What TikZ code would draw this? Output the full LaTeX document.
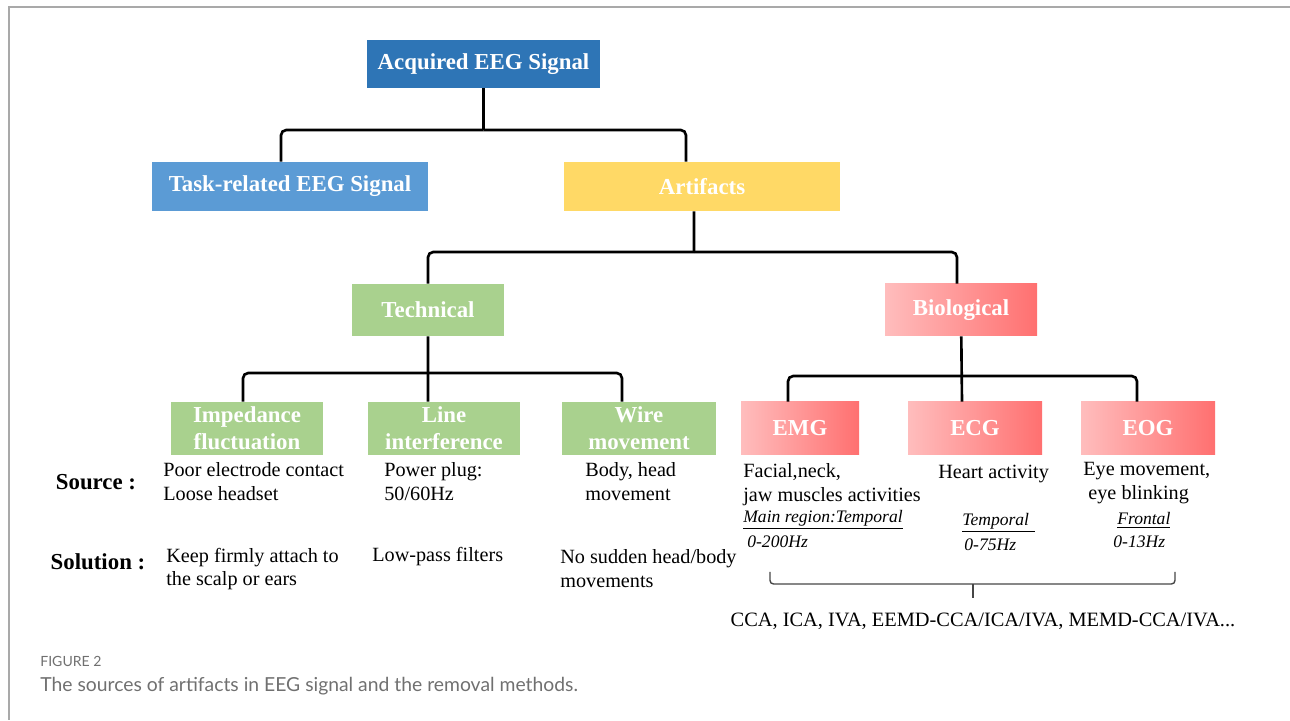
\documentclass[tikz,border=0pt]{standalone}
\usepackage{fontspec}
\setmainfont{Liberation Serif}
\newfontfamily\capfont{Lato}
\definecolor{acqblue}{RGB}{46,117,182}
\definecolor{taskblue}{RGB}{91,155,213}
\definecolor{artyellow}{RGB}{255,217,102}
\definecolor{techgreen}{RGB}{169,209,142}
\definecolor{biolight}{RGB}{255,189,189}
\definecolor{biodark}{RGB}{255,112,112}
\definecolor{capgray}{RGB}{112,112,112}
\definecolor{bracegray}{RGB}{70,70,70}

\begin{document}
\begin{tikzpicture}
      \useasboundingbox (0,0) rectangle (25.8,14.4);
      \draw [capgray!60, line width=0.7pt] (25.8,14.26) -- (0.18,14.26) -- (0.18,0);

      \begin{scope}[every node/.style={rectangle, inner sep=0pt, text=white, align=center, font=\fontsize{13}{15.5}\selectfont\bfseries}]
        \node [fill=acqblue, minimum width=4.66cm, minimum height=0.96cm] (acq) at (9.67,13.12) {Acquired EEG Signal};
        \node [fill=taskblue, minimum width=5.52cm, minimum height=0.98cm] (task) at (5.80,10.67) {Task-related EEG Signal};
        \node [fill=artyellow, minimum width=5.52cm, minimum height=0.98cm] (art) at (14.04,10.67) {Artifacts};

        \node [fill=techgreen, minimum width=3.04cm, minimum height=1.04cm] (tech) at (8.56,8.20) {Technical};
        \node [left color=biolight, right color=biodark, minimum width=3.04cm, minimum height=1.04cm] (bio) at (19.22,8.20) {Biological};

        \node [fill=techgreen, minimum width=3.04cm, minimum height=1.06cm] (imp) at (4.94,5.83) {Impedance\\fluctuation};
        \node [fill=techgreen, minimum width=3.04cm, minimum height=1.06cm] (line) at (8.88,5.83) {Line\\interference};
        \node [fill=techgreen, minimum width=3.08cm, minimum height=1.06cm] (wire) at (12.78,5.83) {Wire\\movement};

        \node [left color=biolight, right color=biodark, minimum width=2.36cm, minimum height=1.06cm] (emg) at (16.00,5.83) {EMG};
        \node [left color=biolight, right color=biodark, minimum width=2.68cm, minimum height=1.06cm] (ecg) at (19.50,5.83) {ECG};
        \node [left color=biolight, right color=biodark, minimum width=2.68cm, minimum height=1.06cm] (eog) at (22.96,5.83) {EOG};
      \end{scope}

      \coordinate (j1) at (9.67,11.80);
      \coordinate (j2) at (13.88,9.36);
      \coordinate (j3) at (8.56,6.94);
      \coordinate (j4) at (19.24,6.88);

      \begin{scope}[line width=1.5pt, rounded corners=3pt]
        \draw (acq) to (j1);
        \draw ([xshift=-1.8mm]task.north) |- (j1);
        \draw ([xshift=-3.2mm]art.north) |- (j1);

        \draw ([xshift=-1.6mm]art.south) to (j2);
        \draw (tech) |- (j2);
        \draw ([xshift=-0.8mm]bio.north) |- (j2);

        \draw (tech) to ([xshift=-3.2mm]line.north);
        \draw ([xshift=-0.8mm]imp.north) |- (j3);
        \draw ([xshift=-3.4mm]wire.north) |- (j3);

        \draw (bio) to ([xshift=-2.6mm]ecg.north);
        \draw ([xshift=-2.4mm]emg.north) |- (j4);
        \draw ([xshift=-2.2mm]eog.north) |- (j4);
      \end{scope}

      \node [font=\fontsize{13}{15.5}\selectfont\bfseries] (src) at (1.92,4.76) {Source :};
      \node [font=\fontsize{13}{15.5}\selectfont\bfseries] (sol) at (1.96,3.16) {Solution :};

      \begin{scope}[every node/.style={inner sep=0pt, anchor=west, align=left, font=\fontsize{11.5}{13.6}\selectfont}]
        \node (impsrc) at (3.26,4.76) {Poor electrode contact\\Loose headset};
        \node (linesrc) at (7.68,4.76) {Power plug:\\50/60Hz};
        \node (wiresrc) at (11.70,4.76) {Body, head\\movement};
        \node (impsol) at (3.32,3.02) {Keep firmly attach to\\the scalp or ears};
        \node (linesol) at (7.44,3.26) {Low-pass filters};
        \node (wiresol) at (11.20,3.02) {No sudden head/body\\movements};

        \node (emgsrc) at (14.86,4.70) {Facial,neck,\\jaw muscles activities};
        \node (ecgsrc) at (18.76,4.92) {Heart activity};
        \node (eogsrc) at (21.66,4.74) {Eye movement,\\\ eye blinking};
      \end{scope}

      \begin{scope}[every node/.style={inner sep=0pt, anchor=west, font=\fontsize{10}{12}\selectfont\itshape}]
        \node (emgreg) at (14.86,4.00) {\underline{Main region:Temporal}};
        \node (emgfreq) at (14.94,3.56) {0-200Hz};
        \node (ecgreg) at (19.24,3.94) {\underline{Temporal\,\,}};
        \node (ecgfreq) at (19.28,3.50) {0-75Hz};
        \node (eogreg) at (22.34,4.00) {\underline{Frontal}};
        \node (eogfreq) at (22.26,3.56) {0-13Hz};
      \end{scope}

      \coordinate (brace) at (19.46,2.72);
      \draw [bracegray, line width=0.8pt, rounded corners=2pt] (15.40,2.96) -- (15.40,2.72) -- (23.50,2.72) -- (23.50,2.96);
      \draw [bracegray, line width=0.8pt] (brace) -- ++(0,-0.28);
      \node [font=\fontsize{11.6}{13}\selectfont] (methods) at (19.66,1.98) {CCA, ICA, IVA, EEMD-CCA/ICA/IVA, MEMD-CCA/IVA...};

      \node [anchor=west, inner sep=0pt, text=capgray, font=\capfont\fontsize{8}{9}\selectfont] (figlbl) at (0.80,1.18) {FIGURE 2};
      \node [anchor=west, inner sep=0pt, text=capgray, font=\capfont\fontsize{11}{12}\selectfont] (caption) at (0.80,0.68) {The sources of artifacts in EEG signal and the removal methods.};
   \end{tikzpicture}
\end{document}
